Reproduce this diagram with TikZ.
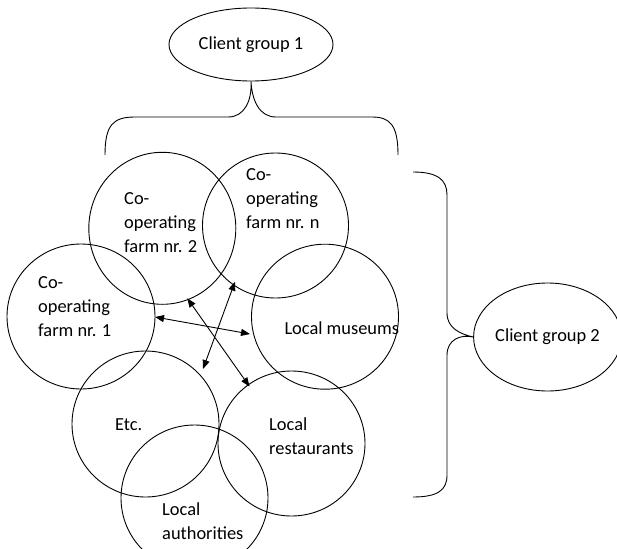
\documentclass[tikz,border=0pt]{standalone}
\usepackage{fontspec}
\setmainfont{Carlito}
\usetikzlibrary{shapes.geometric,arrows.meta}

\begin{document}
\begin{tikzpicture}[x=1pt,y=-1pt,
  every node/.style={font=\fontsize{18.4}{24}\selectfont},
  partner/.style={draw,ellipse,line width=0.9pt,inner sep=0pt},
  client/.style={draw,ellipse,line width=0.9pt,inner sep=0pt},
  label/.style={anchor=north west,align=left,inner sep=0pt},
  oneline/.style={anchor=base west,inner sep=0pt},
  link/.style={line width=0.9pt,{Triangle[length=9pt,width=7pt]}-{Triangle[length=9pt,width=7pt]}},
  brace/.style={line width=0.9pt}]
\useasboundingbox (0,0) rectangle (617,548);
\begin{scope}
\clip (0,0) rectangle (617,548);

% client groups
\node[client,minimum width=164pt,minimum height=73pt] (cg1) at (251,44.5) {Client group 1};
\node[client,minimum width=137pt,minimum height=108pt] (cg2) at (547.5,337) {Client group 2};

% partner circles
\node[partner,minimum width=147pt,minimum height=152pt] (f2)  at (162.3,228.3) {};
\node[partner,minimum width=146pt,minimum height=145pt] (fn)  at (275.5,225.5) {};
\node[partner,minimum width=148pt,minimum height=145pt] (f1)  at (81,316.5) {};
\node[partner,minimum width=147pt,minimum height=145pt] (mus) at (325,316.7) {};
\node[partner,minimum width=147pt,minimum height=146pt] (etc) at (145.5,424) {};
\node[partner,minimum width=147pt,minimum height=145pt] (res) at (291.5,443.5) {};
\node[partner,minimum width=147pt,minimum height=146pt] (aut) at (194.5,498) {};

% partner labels
\node[label] (tf2) at (124,192) {Co-\\operating\\farm nr. 2};
\node[label] (tfn) at (246,168) {Co-\\operating\\farm nr. n};
\node[label] (tf1) at (38,276) {Co-\\operating\\farm nr. 1};
\node[oneline] (tmus) at (284.3,334) {Local museums};
\node[oneline] (tetc) at (115,430) {Etc.};
\node[label] (tres) at (269,418) {Local\\restaurants};
\node[label] (taut) at (162,503) {Local\\authorities};

% arrow end points
\coordinate (a1) at (155,317);
\coordinate (b1) at (250,334);
\coordinate (a2) at (187.3,298.3);
\coordinate (b2) at (249.5,386.5);
\coordinate (a3) at (235,281.7);
\coordinate (b3) at (203,369);
\draw[link] (a1) -- (b1);
\draw[link] (a2) -- (b2);
\draw[link] (a3) -- (b3);

% brace under client group 1
\coordinate (tl) at (105,155);
\coordinate (tr) at (398,155);
\draw[brace] (tl) .. controls (105,125) and (113,117) .. (135,117)
  -- (228,117) .. controls (245,117) and (252,100) .. (cg1.south)
  .. controls (252,100) and (259,117) .. (276,117)
  -- (372,117) .. controls (390,117) and (398,125) .. (tr);

% brace beside client group 2
\coordinate (rt) at (413,172);
\coordinate (rb) at (413,497);
\draw[brace] (rt) .. controls (438,172) and (447,180) .. (447,195)
  -- (447,313) .. controls (447,328) and (460,334) .. (cg2.west)
  .. controls (460,334) and (447,340) .. (447,355)
  -- (447,475) .. controls (447,490) and (438,497) .. (rb);
\end{scope}
\end{tikzpicture}
\end{document}
